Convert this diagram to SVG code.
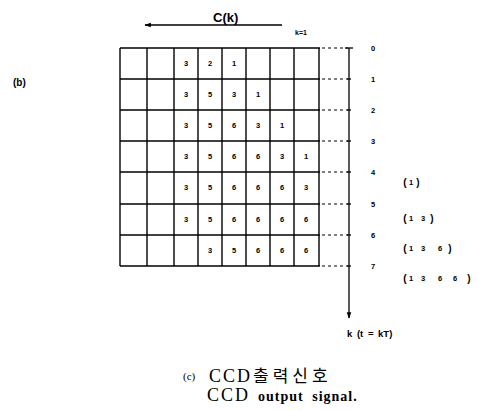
<svg xmlns="http://www.w3.org/2000/svg" width="479" height="411" viewBox="0 0 479 411">
  <style>
    .grid line { stroke: #000; stroke-width: 1.4; }
    .dot { stroke: #000; stroke-width: 1.2; stroke-dasharray: 3 3; }
    .axis { stroke: #000; stroke-width: 1.3; fill: none; }
    .num { font-family: "Liberation Sans", Arial, sans-serif; font-size: 7.5px; font-weight: bold; text-anchor: middle; fill: #000; }
    .lbl { font-family: "Liberation Sans", Arial, sans-serif; font-weight: bold; fill: #000; }
    .par { font-family: "Liberation Sans", Arial, sans-serif; font-weight: bold; font-size: 10px; text-anchor: middle; fill: #000; }
    .cap { font-family: "Liberation Serif", "Noto Sans CJK KR", serif; fill: #000; }
  </style>
  <defs>
    <marker id="head" viewBox="0 0 10 10" refX="9" refY="5" markerWidth="7" markerHeight="5" orient="auto">
      <path d="M0,1.5 L10,5 L0,8.5 Z" fill="#000"/>
    </marker>
  </defs>
  <rect width="479" height="411" fill="#fff"/>

  <text class="lbl" x="13" y="86" font-size="10">(b)</text>

  <!-- C(k) direction -->
  <g id="ck">
    <text class="lbl" x="213" y="22" font-size="13">C(k)</text>
    <line class="axis" x1="282" y1="25" x2="145" y2="25" marker-end="url(#head)"/>
    <text class="lbl" x="295" y="35" font-size="7">k=1</text>
  </g>

  <!-- register grid -->
  <g id="grid" class="grid">
    <line x1="120" y1="48" x2="320" y2="48"/>
    <line x1="120" y1="79" x2="320" y2="79"/>
    <line x1="120" y1="110" x2="320" y2="110"/>
    <line x1="120" y1="141" x2="320" y2="141"/>
    <line x1="120" y1="172" x2="320" y2="172"/>
    <line x1="120" y1="204" x2="320" y2="204"/>
    <line x1="120" y1="235" x2="320" y2="235"/>
    <line x1="120" y1="266" x2="320" y2="266"/>
    <line x1="120" y1="48" x2="120" y2="266"/>
    <line x1="147" y1="48" x2="147" y2="266"/>
    <line x1="174" y1="48" x2="174" y2="266"/>
    <line x1="198" y1="48" x2="198" y2="266"/>
    <line x1="222" y1="48" x2="222" y2="266"/>
    <line x1="246" y1="48" x2="246" y2="266"/>
    <line x1="270" y1="48" x2="270" y2="266"/>
    <line x1="294" y1="48" x2="294" y2="266"/>
    <line x1="319" y1="48" x2="319" y2="266"/>
  </g>

  <!-- cell contents -->
  <g id="cells">
    <text class="num" x="186" y="66">3</text><text class="num" x="210" y="66">2</text><text class="num" x="234" y="66">1</text>
    <text class="num" x="186" y="97">3</text><text class="num" x="210" y="97">5</text><text class="num" x="234" y="97">3</text><text class="num" x="258" y="97">1</text>
    <text class="num" x="186" y="128">3</text><text class="num" x="210" y="128">5</text><text class="num" x="234" y="128">6</text><text class="num" x="258" y="128">3</text><text class="num" x="282" y="128">1</text>
    <text class="num" x="186" y="159">3</text><text class="num" x="210" y="159">5</text><text class="num" x="234" y="159">6</text><text class="num" x="258" y="159">6</text><text class="num" x="282" y="159">3</text><text class="num" x="306" y="159">1</text>
    <text class="num" x="186" y="190">3</text><text class="num" x="210" y="190">5</text><text class="num" x="234" y="190">6</text><text class="num" x="258" y="190">6</text><text class="num" x="282" y="190">6</text><text class="num" x="306" y="190">3</text>
    <text class="num" x="186" y="222">3</text><text class="num" x="210" y="222">5</text><text class="num" x="234" y="222">6</text><text class="num" x="258" y="222">6</text><text class="num" x="282" y="222">6</text><text class="num" x="306" y="222">6</text>
    <text class="num" x="210" y="253">3</text><text class="num" x="234" y="253">5</text><text class="num" x="258" y="253">6</text><text class="num" x="282" y="253">6</text><text class="num" x="306" y="253">6</text>
  </g>

  <!-- time axis -->
  <g id="connectors">
    <line class="dot" x1="322" y1="48" x2="348" y2="48"/>
    <line class="dot" x1="322" y1="79" x2="348" y2="79"/>
    <line class="dot" x1="322" y1="110" x2="348" y2="110"/>
    <line class="dot" x1="322" y1="141" x2="348" y2="141"/>
    <line class="dot" x1="322" y1="172" x2="348" y2="172"/>
    <line class="dot" x1="322" y1="204" x2="348" y2="204"/>
    <line class="dot" x1="322" y1="235" x2="348" y2="235"/>
    <line class="dot" x1="322" y1="266" x2="348" y2="266"/>
    <line class="axis" x1="349" y1="48" x2="349" y2="318" marker-end="url(#head)"/>
    <line class="axis" x1="345" y1="48" x2="353" y2="48"/>
    <line class="axis" x1="347" y1="79" x2="351" y2="79"/>
    <line class="axis" x1="347" y1="110" x2="351" y2="110"/>
    <line class="axis" x1="347" y1="141" x2="351" y2="141"/>
    <line class="axis" x1="347" y1="172" x2="351" y2="172"/>
    <line class="axis" x1="347" y1="204" x2="351" y2="204"/>
    <line class="axis" x1="347" y1="235" x2="351" y2="235"/>
    <line class="axis" x1="347" y1="266" x2="351" y2="266"/>
  </g>

  <g id="ticks">
    <text class="num" x="373" y="51">0</text>
    <text class="num" x="373" y="82">1</text>
    <text class="num" x="373" y="113">2</text>
    <text class="num" x="373" y="144">3</text>
    <text class="num" x="373" y="175">4</text>
    <text class="num" x="373" y="207">5</text>
    <text class="num" x="373" y="238">6</text>
    <text class="num" x="373" y="269">7</text>
  </g>

  <g id="outputs">
    <g id="out1">
      <text class="par" x="405" y="186">(</text><text class="num" x="411" y="185">1</text><text class="par" x="418" y="186">)</text>
    </g>
    <g id="out2">
      <text class="par" x="405" y="222">(</text><text class="num" x="411" y="221">1</text><text class="num" x="423" y="221">3</text><text class="par" x="432" y="222">)</text>
    </g>
    <g id="out3">
      <text class="par" x="405" y="252">(</text><text class="num" x="411" y="251">1</text><text class="num" x="423" y="251">3</text><text class="num" x="440" y="251">6</text><text class="par" x="450" y="252">)</text>
    </g>
    <g id="out4">
      <text class="par" x="405" y="282">(</text><text class="num" x="411" y="281">1</text><text class="num" x="423" y="281">3</text><text class="num" x="440" y="281">6</text><text class="num" x="455" y="281">6</text><text class="par" x="469" y="282">)</text>
    </g>
  </g>

  <text class="lbl" x="347" y="337" font-size="9.5" word-spacing="2">k (t = kT)</text>

  <g id="caption">
    <text class="cap" x="183" y="380" font-size="11">(c)</text>
    <text class="cap" x="209" y="382" font-size="18" letter-spacing="2">CCD</text>
    <text class="cap" x="253" y="382" font-size="17" letter-spacing="4">출력신호</text>
    <text class="cap" x="207" y="401" font-size="18" letter-spacing="2">CCD</text>
    <text class="cap" x="258" y="401" font-size="14" font-weight="bold" letter-spacing="1" word-spacing="4">output signal.</text>
  </g>
</svg>
